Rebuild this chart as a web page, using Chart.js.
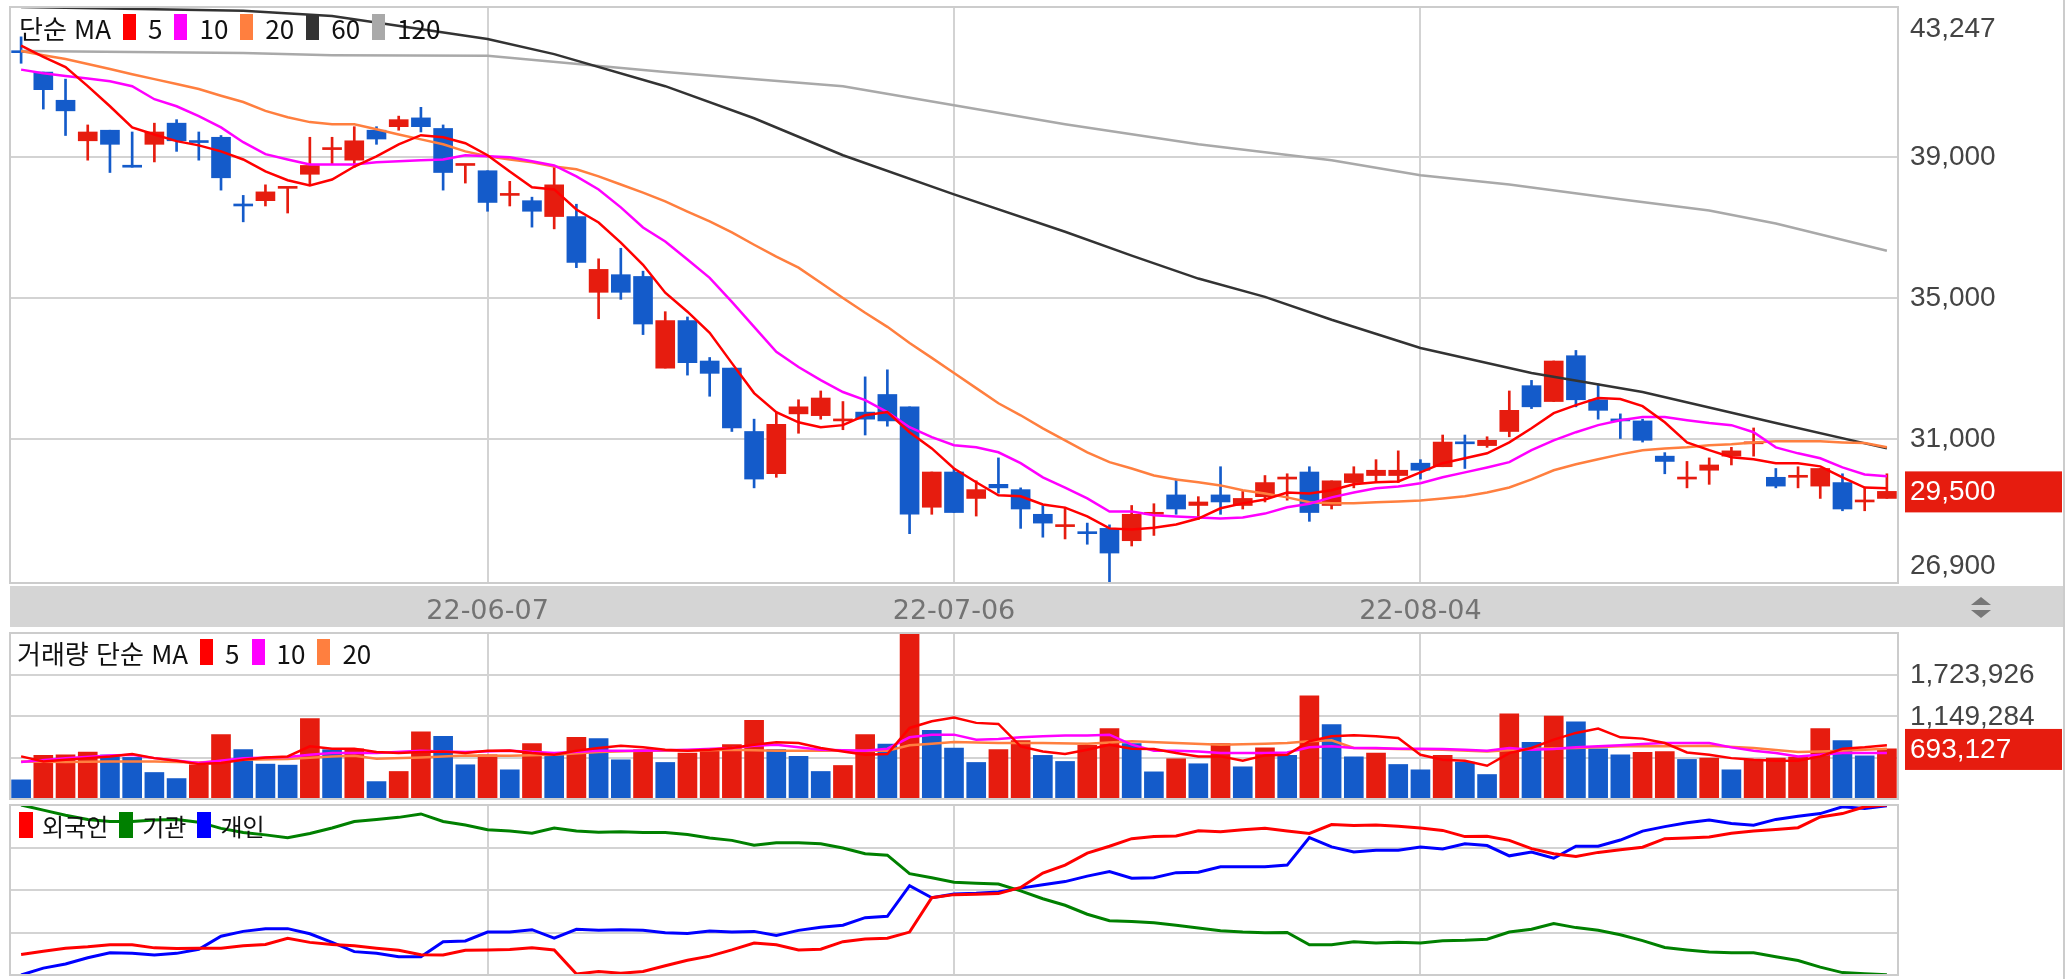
<!DOCTYPE html>
<html lang="ko">
<head>
<meta charset="utf-8">
<title>단순 MA</title>
<script src="https://cdn.jsdelivr.net/npm/chart.js"></script>
<style>
  html, body { margin: 0; padding: 0; background: #fff; }
  body { width: 2070px; height: 979px; position: relative; overflow: hidden; }
  canvas { position: absolute; left: 0; }
  .legend { position: absolute; display: flex; align-items: center; height: 28px;
            font-family: "Noto Sans CJK KR", "Noto Sans", sans-serif; font-size: 26px; color: #111; white-space: nowrap; }
  .legend i { display: inline-block; width: 13px; height: 26px; margin: 0 12px 0 12px; }
  .legend.inv { font-size: 24px; }
  .legend.inv i { width: 14px; margin: 0 9px 0 11px; }
  .legend.inv i:first-child { margin-left: 0; }
</style>
</head>
<body>
<canvas id="price" width="2070" height="630" style="top:0"></canvas>
<canvas id="vol" width="2070" height="170" style="top:630px"></canvas>
<canvas id="inv" width="2070" height="179" style="top:800px"></canvas>

<div class="legend" style="left:19px;top:13px">단순 MA<i style="background:#ff0000"></i>5<i style="background:#ff00ff"></i>10<i style="background:#ff7f3f"></i>20<i style="background:#333333"></i>60<i style="background:#a9a9a9"></i>120</div>
<div class="legend" style="left:17px;top:638px">거래량 단순 MA<i style="background:#ff0000"></i>5<i style="background:#ff00ff"></i>10<i style="background:#ff7f3f"></i>20</div>
<div class="legend inv" style="left:19px;top:811px"><i style="background:#ff0000"></i>외국인<i style="background:#008000"></i>기관<i style="background:#0000ff"></i>개인</div>

<script>
// trading days
const dates = [
  '22-05-04','22-05-06','22-05-09','22-05-10','22-05-11','22-05-12','22-05-13','22-05-16','22-05-17','22-05-18',
  '22-05-19','22-05-20','22-05-23','22-05-24','22-05-25','22-05-26','22-05-27','22-05-30','22-05-31','22-06-02',
  '22-06-03','22-06-07','22-06-08','22-06-09','22-06-10','22-06-13','22-06-14','22-06-15','22-06-16','22-06-17',
  '22-06-20','22-06-21','22-06-22','22-06-23','22-06-24','22-06-27','22-06-28','22-06-29','22-06-30','22-07-01',
  '22-07-04','22-07-05','22-07-06','22-07-07','22-07-08','22-07-11','22-07-12','22-07-13','22-07-14','22-07-15',
  '22-07-18','22-07-19','22-07-20','22-07-21','22-07-22','22-07-25','22-07-26','22-07-27','22-07-28','22-07-29',
  '22-08-01','22-08-02','22-08-03','22-08-04','22-08-05','22-08-08','22-08-09','22-08-10','22-08-11','22-08-12',
  '22-08-16','22-08-17','22-08-18','22-08-19','22-08-22','22-08-23','22-08-24','22-08-25','22-08-26','22-08-29',
  '22-08-30','22-08-31','22-09-01','22-09-02','22-09-05'
];
const tickDates = ['22-06-07', '22-07-06', '22-08-04'];
const priceTicks = [31000, 35000, 39000];

const open = [
  41950,41400,40600,39450,39750,38700,39350,39950,39400,39550,
  37600,37750,38100,38500,39200,38900,39750,39850,40100,39800,
  38750,38600,37900,37750,37300,37300,35150,35650,35600,33000,
  34350,33200,33000,31200,30000,31700,31650,31500,31750,32250,
  31900,29050,30050,29300,29700,29550,28850,28500,28300,28450,
  28100,28850,29400,29100,29400,29100,29350,29850,30050,29100,
  29750,29950,29950,30300,30200,30850,30800,31200,32500,32050,
  33350,32100,31500,31500,30500,29850,30100,30500,30850,29900,
  29900,29650,29750,29200,29300
];
const high = [
  42400,41400,41200,39900,39750,39700,39950,40050,39700,39600,
  37900,38200,38100,39550,39550,39850,39850,40150,40400,39900,
  38750,38600,38300,37850,38700,37650,36100,36400,35750,34600,
  34450,33300,33000,31550,31750,32100,32350,32050,32750,32950,
  31900,30050,30150,29800,30450,29600,29100,29050,28600,28550,
  29100,29150,29850,29350,30200,29500,29950,30000,30200,29800,
  30200,30400,30650,30400,31100,31100,31050,32350,32650,33200,
  33500,32550,31700,31550,30600,30350,30450,30750,31300,30150,
  30200,30150,30000,29600,30000
];
const low = [
  41650,40350,39600,38900,38550,38700,38850,39150,38900,38050,
  37150,37600,37400,38200,38800,38700,39350,39750,39700,38050,
  38250,37450,37600,37000,36950,35850,34400,34950,33950,33000,
  32800,32200,31200,29600,29900,31150,31550,31250,31100,31350,
  28300,28850,28900,28800,29450,28450,28200,28150,28000,26900,
  27950,28250,28850,28700,28850,29000,29200,29250,28650,29000,
  29600,29750,29750,29850,30200,30150,30750,31050,31850,32050,
  31900,31550,31000,30900,30000,29600,29700,30250,30500,29600,
  29600,29300,28950,28950,29300
];
const close = [
  41950,40900,40300,39700,39350,38700,39700,39450,39400,38400,
  37600,38000,38100,38750,39200,39450,39500,40050,39850,38550,
  38750,37700,37900,37450,38200,36000,35800,35150,34250,34350,
  33150,32850,31300,29850,31400,31900,32150,31550,31550,31500,
  28850,30050,28900,29550,29600,29000,28600,28550,28300,27750,
  28850,28850,29000,29200,29200,29300,29750,29850,28900,29800,
  30000,30100,30100,30100,30900,30850,30950,31800,31900,33200,
  32100,31800,31500,30950,30350,29900,30250,30650,30850,29650,
  29900,30150,29000,29200,29500
];

const ma5 = [
  42150,41830,41540,41000,40430,39830,39630,39440,39320,39150,
  38920,38580,38330,38180,38350,38720,39010,39350,39610,39550,
  39380,39040,38580,38130,38070,37500,37130,36560,35930,35140,
  34600,34000,33140,32290,31750,31460,31320,31380,31660,31750,
  31180,30720,30150,29760,29390,29360,29130,29040,28790,28450,
  28420,28470,28560,28730,29020,29160,29270,29470,29440,29530,
  29700,29760,29780,30040,30300,30440,30580,30890,31290,31720,
  31950,32150,32120,31920,31460,30890,30670,30470,30410,30300,
  30300,30210,29900,29610,29590
];
const ma10 = [
  41470,41370,41290,41220,41140,41000,40630,40430,40150,39830,
  39410,39070,38920,38780,38780,38780,38840,38870,38900,38920,
  39040,39010,38980,38870,38750,38440,38070,37560,36990,36590,
  36080,35560,34880,34170,33460,33030,32660,32320,32090,31750,
  31320,31040,30810,30750,30610,30300,29900,29610,29300,28930,
  28930,28820,28790,28760,28730,28760,28870,29050,29150,29330,
  29470,29590,29640,29730,29900,30040,30180,30330,30670,30950,
  31180,31380,31520,31610,31610,31520,31440,31380,31180,30750,
  30580,30440,30180,29980,29930
];
const ma20 = [
  42000,41880,41770,41630,41490,41340,41200,41060,40920,40730,
  40550,40300,40120,39980,39920,39920,39780,39630,39490,39350,
  39150,39010,38920,38840,38720,38640,38440,38210,37980,37730,
  37440,37160,36850,36500,36160,35850,35420,34990,34570,34170,
  33710,33290,32860,32430,32000,31660,31290,30950,30610,30330,
  30150,29950,29840,29760,29670,29530,29440,29330,29190,29160,
  29160,29190,29210,29240,29300,29360,29470,29610,29840,30100,
  30270,30410,30550,30670,30720,30750,30810,30840,30890,30920,
  30920,30920,30890,30870,30750
];
// 60 / 120 day lines read at a few points only
const ma60 = [
  43247,null,null,null,null,null,null,null,null,null,
  43140,null,null,null,42990,null,null,null,null,null,
  null,42340,null,null,41910,null,null,null,null,41000,
  null,null,null,40090,null,null,null,39040,null,null,
  null,null,37930,null,null,null,null,36870,null,null,
  36190,null,null,35540,null,null,35020,null,null,34370,
  null,null,null,33570,null,null,null,null,32860,null,
  null,null,null,32320,null,null,null,null,null,31440,
  null,null,null,null,30720
];
const ma120 = [
  42000,null,null,null,null,null,null,null,null,null,
  41940,null,null,null,41880,null,null,null,null,null,
  null,41860,null,null,null,null,null,null,null,41400,
  null,null,null,null,null,null,null,41000,null,null,
  null,null,40460,null,null,null,null,39920,null,null,
  null,null,null,39350,null,null,null,null,null,38900,
  null,null,null,38470,null,null,null,38210,null,null,
  null,null,37790,null,null,null,37470,null,null,37100,
  null,null,null,null,36330
];

const volume = [
  265000,604000,613000,650000,610000,576000,367000,283000,474000,891000,
  683000,483000,469000,1114000,683000,696000,241000,381000,929000,868000,
  474000,613000,404000,766000,636000,854000,836000,543000,683000,506000,
  636000,696000,752000,1091000,683000,590000,381000,464000,891000,761000,
  2298568,952000,706000,506000,683000,808000,604000,520000,743000,975000,
  766000,376000,557000,488000,766000,446000,710000,604000,1430000,1031000,
  585000,636000,478000,404000,604000,511000,339000,1179000,785000,1147000,
  1068000,696000,613000,645000,655000,548000,566000,404000,543000,566000,
  580000,975000,808000,599000,693127
];
const volMa5 = [
  590000,520000,543000,566000,590000,622000,566000,529000,483000,497000,
  543000,576000,590000,729000,696000,696000,650000,636000,650000,659000,
  636000,669000,673000,636000,613000,669000,706000,738000,715000,683000,
  669000,683000,706000,752000,785000,775000,706000,659000,613000,622000,
  984000,1077000,1128000,1054000,1040000,729000,659000,622000,683000,752000,
  696000,692000,636000,590000,590000,529000,604000,613000,799000,868000,
  882000,868000,845000,613000,543000,529000,460000,636000,706000,822000,
  915000,975000,854000,836000,775000,645000,613000,566000,543000,529000,
  529000,590000,696000,715000,743000
];
const volMa10 = [
  511000,null,566000,null,604000,613000,566000,null,497000,null,
  566000,null,580000,613000,636000,null,636000,null,669000,659000,
  650000,null,669000,null,636000,null,669000,null,669000,null,
  683000,null,706000,738000,752000,null,683000,null,669000,696000,
  854000,891000,891000,822000,831000,854000,868000,878000,878000,891000,
  752000,669000,669000,659000,636000,636000,636000,645000,715000,729000,
  706000,706000,696000,696000,692000,683000,669000,706000,683000,692000,
  715000,729000,743000,761000,775000,775000,775000,715000,669000,636000,
  590000,613000,636000,636000,636000
];
const volMa20 = [
  520000,null,511000,null,520000,null,520000,null,506000,null,
  543000,null,553000,null,590000,600000,557000,null,576000,null,
  604000,null,599000,null,613000,null,650000,null,669000,null,
  669000,null,683000,null,669000,null,669000,null,669000,669000,
  743000,766000,789000,null,775000,null,775000,null,766000,null,
  799000,null,775000,null,752000,null,766000,775000,799000,813000,
  706000,null,692000,null,683000,null,659000,null,696000,null,
  706000,null,729000,null,729000,null,738000,null,706000,null,
  650000,659000,669000,null,696000
];

// cumulative net buying (억원)
const foreignNet = [
  -187,-178,-169,-165,-159,-159,-168,-170,-169,-169,
  -162,-158,-140,-152,-158,-162,-169,-175,-188,-189,
  -175,-174,-173,-168,-174,-244,-237,-242,-237,-220,
  -204,-192,-174,-154,-159,-174,-172,-150,-142,-140,
  -122,-22,-13,-12,-10,8,50,73,108,128,
  150,156,158,173,170,176,180,172,165,191,
  188,190,186,181,174,156,157,145,121,106,
  98,110,118,125,150,152,155,166,172,177,
  182,213,223,243,248
];
const instNet = [
  248,233,218,206,200,200,204,206,198,180,
  168,161,153,165,181,200,206,212,222,200,
  190,176,172,166,181,172,169,170,168,168,
  162,152,145,131,138,138,135,123,106,102,
  48,36,23,20,18,-2,-25,-44,-70,-89,
  -91,-95,-102,-110,-118,-122,-124,-123,-159,-159,
  -150,-154,-152,-154,-147,-146,-143,-122,-114,-97,
  -109,-117,-130,-147,-167,-174,-180,-182,-182,-194,
  -205,-224,-240,-243,-246
];
const indivNet = [
  -247,-227,-215,-197,-182,-184,-189,-184,-172,-134,
  -120,-112,-112,-127,-152,-179,-184,-194,-194,-150,
  -148,-122,-122,-115,-140,-114,-117,-115,-117,-124,
  -126,-119,-122,-120,-132,-117,-108,-102,-80,-76,
  13,-22,-11,-9,-5,6,16,25,41,54,
  35,36,51,52,68,68,68,73,153,126,
  111,116,116,126,120,135,130,100,111,93,
  128,128,146,172,185,196,204,194,189,206,
  215,223,243,238,246
];

const RED = '#e61c0f';
const BLUE = '#145bca';
const GRID = '#d3d3d3';
const AXIS_W = 172;
const NUM_FONT = '"Helvetica Neue", "Liberation Sans", Arial, sans-serif';
const fmt = v => Math.round(v).toLocaleString('en-US');

const candleColors = close.map((c, i) => {
  const up = c > open[i] || (c === open[i] && i > 0 && c >= close[i - 1]);
  return up ? RED : BLUE;
});
const volColors = volume.map((v, i) => (i > 0 && v >= volume[i - 1]) ? RED : BLUE);

function xAxis(withLabels) {
  return {
    type: 'category',
    offset: true,
    border: { display: false },
    grid: {
      offset: false,
      drawTicks: false,
      lineWidth: 2,
      color: c => tickDates.includes(dates[c.index]) ? GRID : 'rgba(0,0,0,0)'
    },
    ticks: withLabels ? {
      autoSkip: false,
      maxRotation: 0,
      padding: 13,
      color: '#737373',
      font: { family: '"DejaVu Sans", sans-serif', size: 27 },
      callback: (v, i) => tickDates.includes(dates[i]) ? dates[i] : ''
    } : { display: false },
    afterFit: s => { s.height = withLabels ? 47 : 0; }
  };
}

function yAxis(extra) {
  return Object.assign({
    position: 'right',
    border: { display: true, color: GRID, width: 2 },
    grid: { drawTicks: false, lineWidth: 2, color: GRID },
    ticks: { display: false },
    afterFit: s => { s.width = AXIS_W; }
  }, extra);
}

function line(data, color, width) {
  return { type: 'line', data, borderColor: color, borderWidth: width || 2.5,
           pointRadius: 0, spanGaps: true, tension: 0, order: 0 };
}

// outline of the plot and the right edge of the window
const frame = {
  id: 'frame',
  afterDraw(chart) {
    const { ctx, chartArea: a } = chart;
    ctx.save();
    ctx.strokeStyle = '#cccccc';
    ctx.lineWidth = 2;
    ctx.strokeRect(a.left, a.top, a.right - a.left, a.bottom - a.top);
    ctx.beginPath();
    ctx.moveTo(2064, 0);
    ctx.lineTo(2064, chart.height);
    ctx.stroke();
    ctx.restore();
  }
};

// right side value labels and the current value box
function sideLabels(items) {
  return {
    id: 'sideLabels',
    afterDraw(chart) {
      const { ctx, chartArea: a } = chart;
      const y = chart.scales.y;
      ctx.save();
      ctx.font = '28px ' + NUM_FONT;
      ctx.textBaseline = 'middle';
      const list = items(chart);
      const box = list.find(it => it.box);
      const boxY = box ? y.getPixelForValue(box.value) : -999;
      for (const it of list) {
        const py = y.getPixelForValue(it.value) + (it.dy || 0);
        if (it.box) {
          ctx.fillStyle = it.box;
          ctx.fillRect(a.right + 7, py - 20, 157, 41);
          ctx.fillStyle = '#ffffff';
        } else {
          if (Math.abs(py - boxY) < 30) continue;
          ctx.fillStyle = '#444444';
        }
        ctx.fillText(fmt(it.value), a.right + 12, py + 1);
      }
      ctx.restore();
    }
  };
}

// grey date band under the price pane
const dateBand = {
  id: 'dateBand',
  beforeDraw(chart) {
    const { ctx, chartArea: a } = chart;
    ctx.save();
    ctx.fillStyle = '#d5d5d5';
    ctx.fillRect(a.left, a.bottom + 3, 2064 - a.left, 41);
    ctx.restore();
  },
  afterDraw(chart) {
    const { ctx, chartArea: a } = chart;
    const cx = 1981, top = a.bottom + 14;
    ctx.save();
    ctx.fillStyle = '#777777';
    ctx.beginPath();
    ctx.moveTo(cx, top); ctx.lineTo(cx + 10, top + 8); ctx.lineTo(cx - 10, top + 8); ctx.closePath();
    ctx.moveTo(cx - 10, top + 13); ctx.lineTo(cx + 10, top + 13); ctx.lineTo(cx, top + 21); ctx.closePath();
    ctx.fill();
    ctx.restore();
  }
};

const base = {
  responsive: false,
  animation: false,
  devicePixelRatio: 1,
  plugins: { legend: { display: false }, tooltip: { enabled: false } }
};

const priceMin = Math.min(...low);
const priceMax = Math.max(...high, ...ma5, ...ma10, ...ma20,
  ...ma60.filter(v => v !== null), ...ma120.filter(v => v !== null));

new Chart(document.getElementById('price'), {
  type: 'bar',
  data: {
    labels: dates,
    datasets: [
      line(ma5, '#ff0000'),
      line(ma10, '#ff00ff'),
      line(ma20, '#ff7f3f'),
      line(ma60, '#333333'),
      line(ma120, '#a9a9a9'),
      { data: dates.map((d, i) => [open[i], close[i]]), backgroundColor: candleColors,
        barThickness: 19, minBarLength: 2, grouped: false, order: 1 },
      { data: dates.map((d, i) => [low[i], high[i]]), backgroundColor: candleColors,
        barThickness: 2, grouped: false, order: 2 }
    ]
  },
  options: Object.assign({}, base, {
    layout: { padding: { left: 10, top: 7, right: 0, bottom: 0 } },
    scales: {
      x: xAxis(true),
      y: yAxis({ min: priceMin, max: priceMax,
                 afterBuildTicks: s => { s.ticks = priceTicks.map(v => ({ value: v })); } })
    }
  }),
  plugins: [dateBand, frame, sideLabels(() => [
    { value: priceMax, dy: 21 },
    ...priceTicks.map(v => ({ value: v })),
    { value: priceMin, dy: -18 },
    { value: close[close.length - 1], box: RED }
  ])]
});

const volMax = Math.max(...volume);
const volTicks = [1, 2, 3].map(k => volMax * k / 4);

new Chart(document.getElementById('vol'), {
  type: 'bar',
  data: {
    labels: dates,
    datasets: [
      line(volMa5, '#ff0000'),
      line(volMa10, '#ff00ff'),
      line(volMa20, '#ff7f3f'),
      { data: volume, backgroundColor: volColors, barThickness: 19, order: 1 }
    ]
  },
  options: Object.assign({}, base, {
    layout: { padding: { left: 10, top: 3, right: 0, bottom: 1 } },
    scales: {
      x: xAxis(false),
      y: yAxis({ min: 0, max: volMax,
                 afterBuildTicks: s => { s.ticks = volTicks.map(v => ({ value: v })); } })
    }
  }),
  plugins: [frame, sideLabels(() => [
    ...volTicks.map(v => ({ value: v })).reverse(),
    { value: volume[volume.length - 1], box: RED }
  ])]
});

const invMin = Math.min(...foreignNet, ...instNet, ...indivNet);
const invMax = Math.max(...foreignNet, ...instNet, ...indivNet);

new Chart(document.getElementById('inv'), {
  type: 'line',
  data: {
    labels: dates,
    datasets: [
      line(foreignNet, '#ff0000', 3),
      line(instNet, '#008000', 3),
      line(indivNet, '#0000ff', 3)
    ]
  },
  options: Object.assign({}, base, {
    layout: { padding: { left: 10, top: 5, right: 0, bottom: 4 } },
    scales: {
      x: xAxis(false),
      y: yAxis({ min: invMin, max: invMax,
                 afterBuildTicks: s => {
                   s.ticks = [1, 2, 3].map(k => ({ value: invMin + (invMax - invMin) * k / 4 }));
                 } })
    }
  }),
  plugins: [frame]
});
</script>
</body>
</html>
